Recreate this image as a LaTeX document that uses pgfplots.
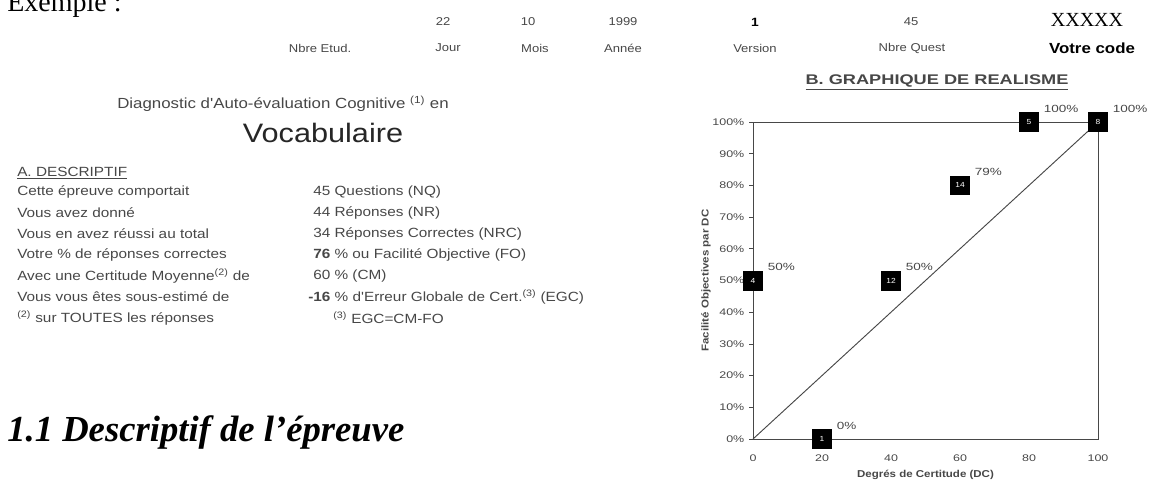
\documentclass[border=0pt]{standalone}
\usepackage{fontspec}
\setmainfont{Liberation Serif}
\newfontfamily\scan[FakeStretch=1.15]{Liberation Sans}
\newfontfamily\scanwide[FakeStretch=1.3]{Liberation Sans}
\usepackage{pgfplots}
\pgfplotsset{compat=1.18}
\definecolor{ink}{gray}{0.28}

\begin{document}
\begin{tikzpicture}
\begin{scope}[x=0.75pt,y=-0.75pt]
\path[use as bounding box] (0,0) rectangle (1153,485);

% en-tete
\node[anchor=base west,inner sep=0,font=\fontsize{21}{24}\selectfont] at (7,12) {Exemple :};
\begin{scope}[every node/.style={inner sep=0,text=ink,font=\scan\fontsize{8.5}{10}\selectfont}]
  \node at (443,22) {22};
  \node at (528,22) {10};
  \node at (623,22) {1999};
  \node[text=black,font=\scan\bfseries\fontsize{9}{10}\selectfont] at (755,22) {1};
  \node at (911,22) {45};
  \node at (320,48) {Nbre Etud.};
  \node at (448,48) {Jour};
  \node at (535,48) {Mois};
  \node at (623,48) {Année};
  \node at (755,48) {Version};
  \node at (912,48) {Nbre Quest};
  \node[text=black,font=\scan\bfseries\fontsize{11}{12}\selectfont] at (1092,48) {Votre code};
\end{scope}
\node[inner sep=0,font=\fontsize{15}{16}\selectfont] at (1087,20) {XXXXX};

% titre
\node[inner sep=0,text=ink,font=\scan\fontsize{11}{12}\selectfont] at (283,104)
  {Diagnostic d'Auto-évaluation Cognitive \textsuperscript{(1)} en};
\node[inner sep=0,text=black!85,font=\scan\fontsize{20}{22}\selectfont] at (323,133) {Vocabulaire};

% A. descriptif
\begin{scope}[every node/.style={anchor=west,inner sep=0,text=ink,font=\scan\fontsize{10}{12}\selectfont}]
  \node at (17,173) {\underline{A. DESCRIPTIF}};
  \node at (17,192) {Cette épreuve comportait};
  \node at (17,213) {Vous avez donné};
  \node at (17,234) {Vous en avez réussi au total};
  \node at (17,255) {Votre \% de réponses correctes};
  \node at (17,276) {Avec une Certitude Moyenne\textsuperscript{(2)} de};
  \node at (17,297) {Vous vous êtes sous-estimé de};
  \node at (17,318) {\textsuperscript{(2)} sur TOUTES les réponses};
  \node at (313,192) {45 Questions (NQ)};
  \node at (313,213) {44 Réponses (NR)};
  \node at (313,234) {34 Réponses Correctes (NRC)};
  \node at (313,255) {\textbf{76} \% ou Facilité Objective (FO)};
  \node at (313,276) {60 \% (CM)};
  \node at (308,297) {\textbf{-16} \% d'Erreur Globale de Cert.\textsuperscript{(3)} (EGC)};
  \node at (333,318) {\textsuperscript{(3)} EGC=CM-FO};
\end{scope}

\node[anchor=base west,inner sep=0,font=\bfseries\itshape\fontsize{27.5}{30}\selectfont] at (7,441)
  {1.1 Descriptif de l’épreuve};

% B. graphique
\node[inner sep=0,text=ink,font=\scanwide\bfseries\fontsize{10.5}{12}\selectfont] at (937,82)
  {\underline{B. GRAPHIQUE DE REALISME}};
\end{scope}

\begin{axis}[
  at={(564.75pt,-329.25pt)}, anchor=south west, scale only axis,
  width=258.75pt, height=237.75pt,
  xmin=0, xmax=100, ymin=0, ymax=100,
  clip=false,
  axis line style={ink,line width=0.7pt},
  xtick={0,20,...,100}, ytick={0,10,...,100},
  xtick pos=bottom, ytick pos=left,
  tick align=outside, major tick length=3pt,
  xtick style={draw=none}, ytick style={ink,line width=0.6pt},
  /pgf/number format/assume math mode=true,
  yticklabel={\pgfmathprintnumber{\tick}\%},
  ticklabel style={text=ink,font=\scanwide\fontsize{7.2}{8}\selectfont},
  xticklabel style={yshift=-5pt},
  xlabel={Degrés de Certitude (DC)},
  ylabel={Facilité Objectives par DC},
  label style={text=ink,font=\scan\bfseries\fontsize{7.5}{9}\selectfont},
  xlabel style={at={(axis description cs:0.5,-0.114)},anchor=center},
  ylabel style={at={(axis description cs:-0.136,0.5)},anchor=center},
]
\addplot[ink,line width=0.7pt] coordinates {(0,0) (100,100)};
\addplot[only marks,mark=square*,mark size=7pt,black,
  point meta=explicit,
  nodes near coords,
  every node near coord/.append style={anchor=center,text=white,inner sep=0,
    font=\scan\fontsize{5.5}{6}\selectfont}]
  table[meta=n] {
x y n
0 50 4
20 0 1
40 50 12
60 80 14
80 100 5
100 100 8
};
\addplot[draw=none,mark=none,
  point meta=explicit,
  nodes near coords={\pgfmathprintnumber{\pgfplotspointmeta}\%},
  every node near coord/.append style={anchor=west,xshift=11pt,yshift=10pt,inner sep=0,
    text=ink,font=\scanwide\fontsize{7.8}{8}\selectfont}]
  table[meta=p] {
x y p
0 50 50
20 0 0
40 50 50
60 80 79
80 100 100
100 100 100
};
\end{axis}
\end{tikzpicture}
\end{document}
